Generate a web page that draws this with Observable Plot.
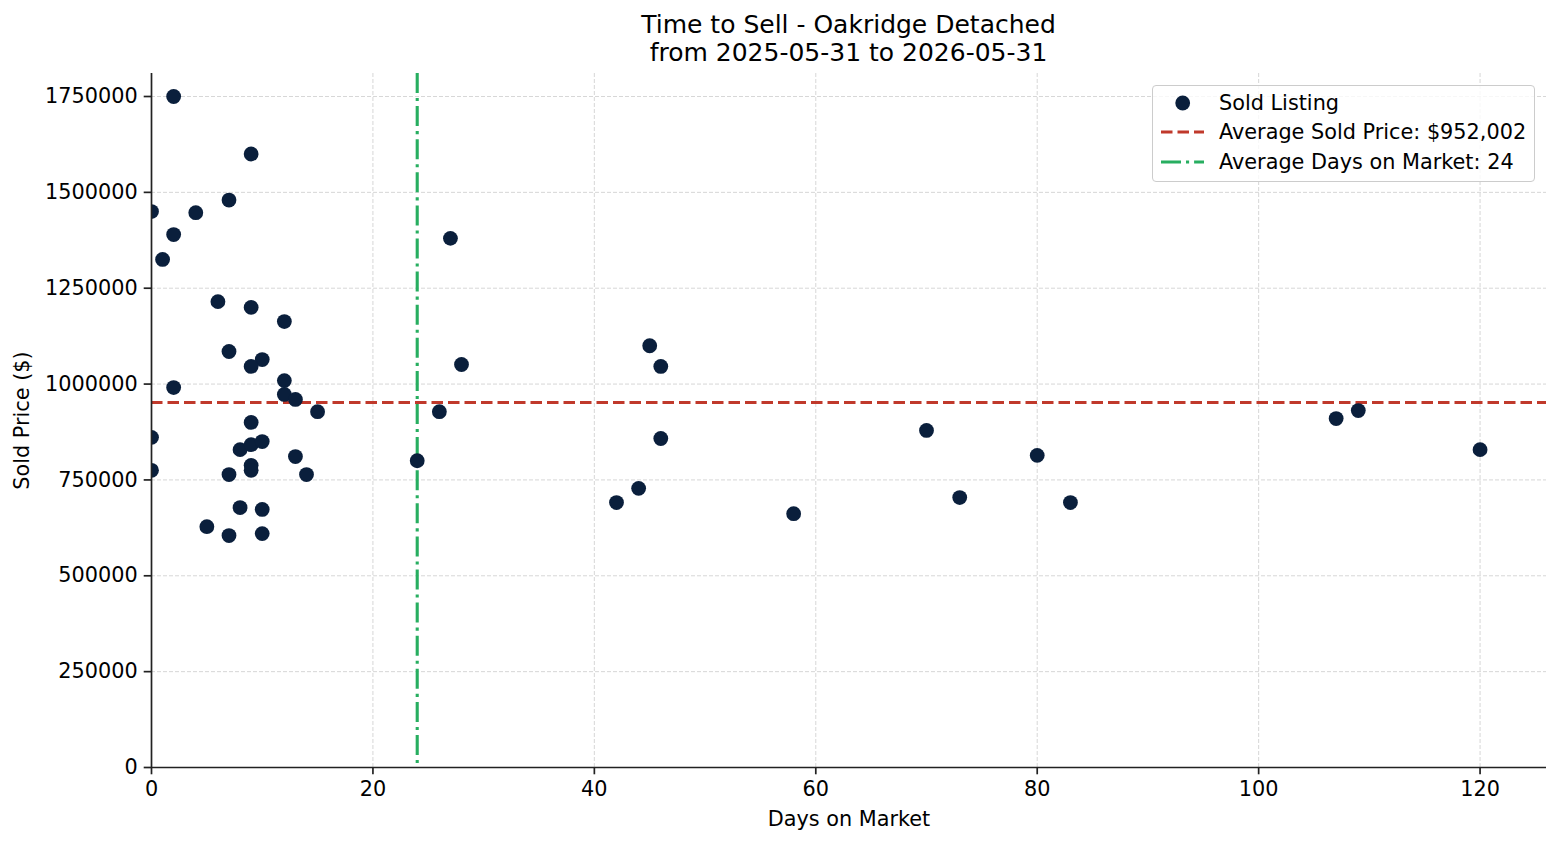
<!DOCTYPE html>
<html>
<head>
<meta charset="utf-8">
<script src="https://cdn.jsdelivr.net/npm/d3@7"></script>
<script src="https://cdn.jsdelivr.net/npm/@observablehq/plot@0.6"></script>
<style>
  html, body { margin: 0; padding: 0; background: white; }
  #wrap { position: relative; width: 1560px; height: 845px; font-family: "DejaVu Sans", sans-serif; }
  #title { margin-left: 151px; width: 1395px; padding-top: 11px; height: 56px; text-align: center;
           font-size: 25px; line-height: 28px; color: black; }
  #legend { position: absolute; left: 1152px; top: 85px; width: 381px; height: 95px;
            border: 1px solid #cccccc; border-radius: 4px; background: rgba(255,255,255,0.8); }
  .row { position: absolute; left: 0; height: 30px; width: 100%; }
  .row svg { position: absolute; left: 7px; top: 0; }
  .row span { position: absolute; left: 66px; top: 0; line-height: 30px; font-size: 20.8px; color: black; white-space: nowrap; }
  svg { display: block; }
</style>
</head>
<body>
<div id="wrap">
  <div id="title"></div>
  <div id="chart"></div>
  <div id="legend"></div>
</div>
<script>
const titleLines = ["Time to Sell - Oakridge Detached", "from 2025-05-31 to 2026-05-31"];
const xLabel = "Days on Market";
const yLabel = "Sold Price ($)";
const days = [2, 9, 0, 7, 4, 2, 1, 6, 9, 12, 7, 10, 9, 12, 2, 12, 13, 15, 9, 0, 8, 9, 10, 13, 0, 7, 9, 9, 14, 8, 10, 5, 7, 10,
              24, 26, 27, 28, 45, 46, 46, 42, 44, 58, 70, 73, 80, 83, 107, 109, 120];
const prices = [1750000, 1600000, 1450000, 1480000, 1447000, 1390000, 1325000, 1215000, 1200000, 1163000, 1085000, 1064000,
                1046000, 1009000, 991000, 973000, 960000, 928000, 900000, 861000, 829000, 842000, 850000, 811000, 775000,
                764000, 788000, 775000, 764000, 678000, 673000, 628000, 605000, 610000,
                800000, 928000, 1380000, 1051000, 1100000, 1046000, 858000, 691000, 728000, 662000, 879000, 704000,
                814000, 691000, 910000, 931000, 829000];
const avgPrice = 952002;
const avgDays = 24;
const xTicks = [0, 20, 40, 60, 80, 100, 120];
const yTicks = [0, 250000, 500000, 750000, 1000000, 1250000, 1500000, 1750000];
const legendLabels = ["Sold Listing", "Average Sold Price: $952,002", "Average Days on Market: 24"];

const dotColor = "#0a1f3c";
const red = "#c0392b";
const green = "#27ae60";

document.getElementById("title").innerHTML = titleLines.join("<br>");

const data = days.map((d, i) => ({days: d, price: prices[i]}));
const gridStyle = {stroke: "#b0b0b0", strokeOpacity: 0.5, strokeWidth: 1, strokeDasharray: "4,2"};

const chart = Plot.plot({
  width: 1560,
  height: 778,
  marginTop: 6,
  marginBottom: 78,
  marginLeft: 151,
  marginRight: 14,
  style: {fontFamily: "DejaVu Sans, sans-serif", fontSize: "20.8px", color: "black", background: "white"},
  x: {domain: [0, 126]},
  y: {domain: [0, 1810000]},
  marks: [
    Plot.gridX(xTicks, gridStyle),
    Plot.gridY(yTicks, gridStyle),
    Plot.ruleY([avgPrice], {stroke: red, strokeWidth: 3.1, strokeDasharray: "11.5,5"}),
    Plot.ruleX([avgDays], {stroke: green, strokeWidth: 3.1, strokeDasharray: "20,5,3.1,5"}),
    Plot.dot(data, {x: "days", y: "price", r: 7.4, fill: dotColor, stroke: "none", clip: true}),
    Plot.ruleX([0], {stroke: "#222", strokeWidth: 1.7}),
    Plot.ruleY([0], {stroke: "#222", strokeWidth: 1.7}),
    Plot.axisX(xTicks, {tickSize: 7.3, tickPadding: 6, strokeWidth: 1.7, stroke: "#222", label: null, tickFormat: d => String(d), fill: "black"}),
    Plot.axisY(yTicks, {tickSize: 7.3, tickPadding: 6.5, strokeWidth: 1.7, stroke: "#222", label: null, tickFormat: d => String(d), fill: "black"}),
    Plot.text([xLabel], {text: d => d, frameAnchor: "bottom", dy: 52, textAnchor: "middle", lineAnchor: "middle", fill: "black", fontSize: 20.8}),
    Plot.text([yLabel], {text: d => d, frameAnchor: "left", dx: -129, rotate: -90, textAnchor: "middle", lineAnchor: "middle", fill: "black", fontSize: 20.8})
  ]
});
document.getElementById("chart").appendChild(chart);

// Legend
const legend = document.getElementById("legend");
const swatches = [
  `<svg width="44" height="30"><circle cx="22.7" cy="15" r="7.4" fill="${dotColor}"/></svg>`,
  `<svg width="44" height="30"><line x1="1" x2="44" y1="15" y2="15" stroke="${red}" stroke-width="3.1" stroke-dasharray="11.5,5"/></svg>`,
  `<svg width="44" height="30"><line x1="1" x2="44" y1="15" y2="15" stroke="${green}" stroke-width="3.1" stroke-dasharray="20,5,3.1,5"/></svg>`
];
const rowCenters = [18, 46.5, 76.5];
legendLabels.forEach((lab, i) => {
  const row = document.createElement("div");
  row.className = "row";
  row.style.top = (rowCenters[i] - 15 - 1) + "px";
  row.innerHTML = swatches[i] + `<span>${lab}</span>`;
  legend.appendChild(row);
});
</script>
</body>
</html>
